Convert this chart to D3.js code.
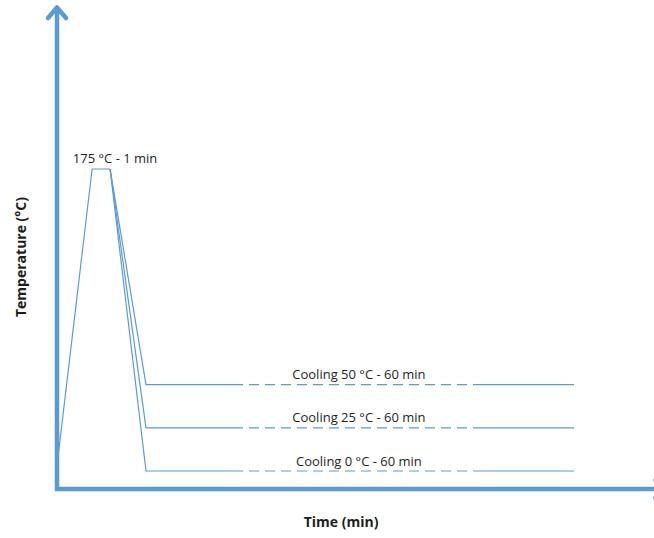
<!DOCTYPE html>
<html>
<head>
<meta charset="utf-8">
<script src="https://cdn.jsdelivr.net/npm/d3@7"></script>
<style>
  html, body { margin: 0; padding: 0; background: #fff; }
  svg { display: block; }
  text { font-family: "Open Sans", "Noto Sans", sans-serif; fill: #1e1e1e; }
</style>
</head>
<body>
<svg id="chart" width="654" height="538"></svg>
<script>
// Thermal profile: heat-up, short hold at peak, then cooling to three hold temperatures.
const startTemp = 8;          // °C at t = 0
const peakTemp = 175;         // °C
const rampEnd = 1.9;          // min, end of heating ramp
const peakHold = 1;           // min held at peak
const coolEnd = 4.9;          // min, hold temperature reached
const holdDuration = 60;      // min
const breakStart = 18.5;      // min, start of the shortened (dashed) stretch
const breakEnd = 51.0;        // min, end of the shortened stretch
const coolingTemps = [50, 25, 0];
const coolingLabels = ["Cooling 50 °C - 60 min", "Cooling 25 °C - 60 min", "Cooling 0 °C - 60 min"];
const peakLabel = "175 °C - 1 min";
const xTitle = "Time (min)";
const yTitle = "Temperature (°C)";

const svg = d3.select("#chart");
const blue = "#5b9bd5";

const holdEnd = coolEnd + holdDuration;
// Time axis is compressed after the cooling step so the 60 min hold fits.
const x = d3.scaleLinear().domain([0, coolEnd, holdEnd]).range([58, 146, 574]);
const y = d3.scaleLinear().domain([0, peakTemp]).range([471, 169]);

const line = d3.line().x(d => x(d[0])).y(d => y(d[1]));

// Heating ramp and peak hold (shared by all profiles)
const peakEnd = rampEnd + peakHold;
svg.append("path")
  .attr("d", line([[0, startTemp], [rampEnd, peakTemp], [peakEnd, peakTemp]]))
  .attr("fill", "none").attr("stroke", blue).attr("stroke-width", 1.2);

coolingTemps.forEach((T, i) => {
  // cooling drop + first solid part of the hold
  svg.append("path")
    .attr("d", line([[peakEnd, peakTemp], [coolEnd, T], [breakStart, T]]))
    .attr("fill", "none").attr("stroke", blue).attr("stroke-width", 1.2);
  // shortened stretch of the hold
  svg.append("path")
    .attr("d", line([[breakStart, T], [breakEnd, T]]))
    .attr("fill", "none").attr("stroke", blue).attr("stroke-width", 1.2)
    .attr("stroke-dasharray", "10,6").attr("stroke-dashoffset", -6);
  // final solid part of the hold
  svg.append("path")
    .attr("d", line([[breakEnd, T], [holdEnd, T]]))
    .attr("fill", "none").attr("stroke", blue).attr("stroke-width", 1.2);
  svg.append("text")
    .attr("x", x((breakStart + breakEnd) / 2))
    .attr("y", y(T) - 5.5)
    .attr("text-anchor", "middle")
    .attr("font-size", 13)
    .text(coolingLabels[i]);
});

svg.append("text")
  .attr("x", x(rampEnd + peakHold / 2) + 14)
  .attr("y", y(peakTemp) - 6.5)
  .attr("text-anchor", "middle")
  .attr("font-size", 13)
  .text(peakLabel);

// Axes with open arrowheads
const axisW = 4.5;
const x0 = x(0) - 1, yBase = 489;
svg.append("line").attr("x1", x0).attr("y1", yBase + 2).attr("x2", x0).attr("y2", 9)
  .attr("stroke", blue).attr("stroke-width", axisW);
svg.append("path").attr("d", `M${x0 - 9},${18} L${x0},${7.5} L${x0 + 9},${18}`)
  .attr("fill", "none").attr("stroke", blue).attr("stroke-width", axisW)
  .attr("stroke-linecap", "round").attr("stroke-linejoin", "round");
svg.append("line").attr("x1", x0 - 2).attr("y1", yBase).attr("x2", 664).attr("y2", yBase)
  .attr("stroke", blue).attr("stroke-width", axisW);
svg.append("path").attr("d", `M${655.5},${yBase - 9} L${665},${yBase} L${655.5},${yBase + 9}`)
  .attr("fill", "none").attr("stroke", blue).attr("stroke-width", axisW)
  .attr("stroke-linecap", "round").attr("stroke-linejoin", "round");

// Axis titles
svg.append("text")
  .attr("x", 341).attr("y", 527)
  .attr("text-anchor", "middle").attr("font-size", 14).attr("font-weight", "bold")
  .text(xTitle);
svg.append("text")
  .attr("transform", "translate(26,257) rotate(-90)")
  .attr("text-anchor", "middle").attr("font-size", 14).attr("font-weight", "bold")
  .text(yTitle);
</script>
</body>
</html>
